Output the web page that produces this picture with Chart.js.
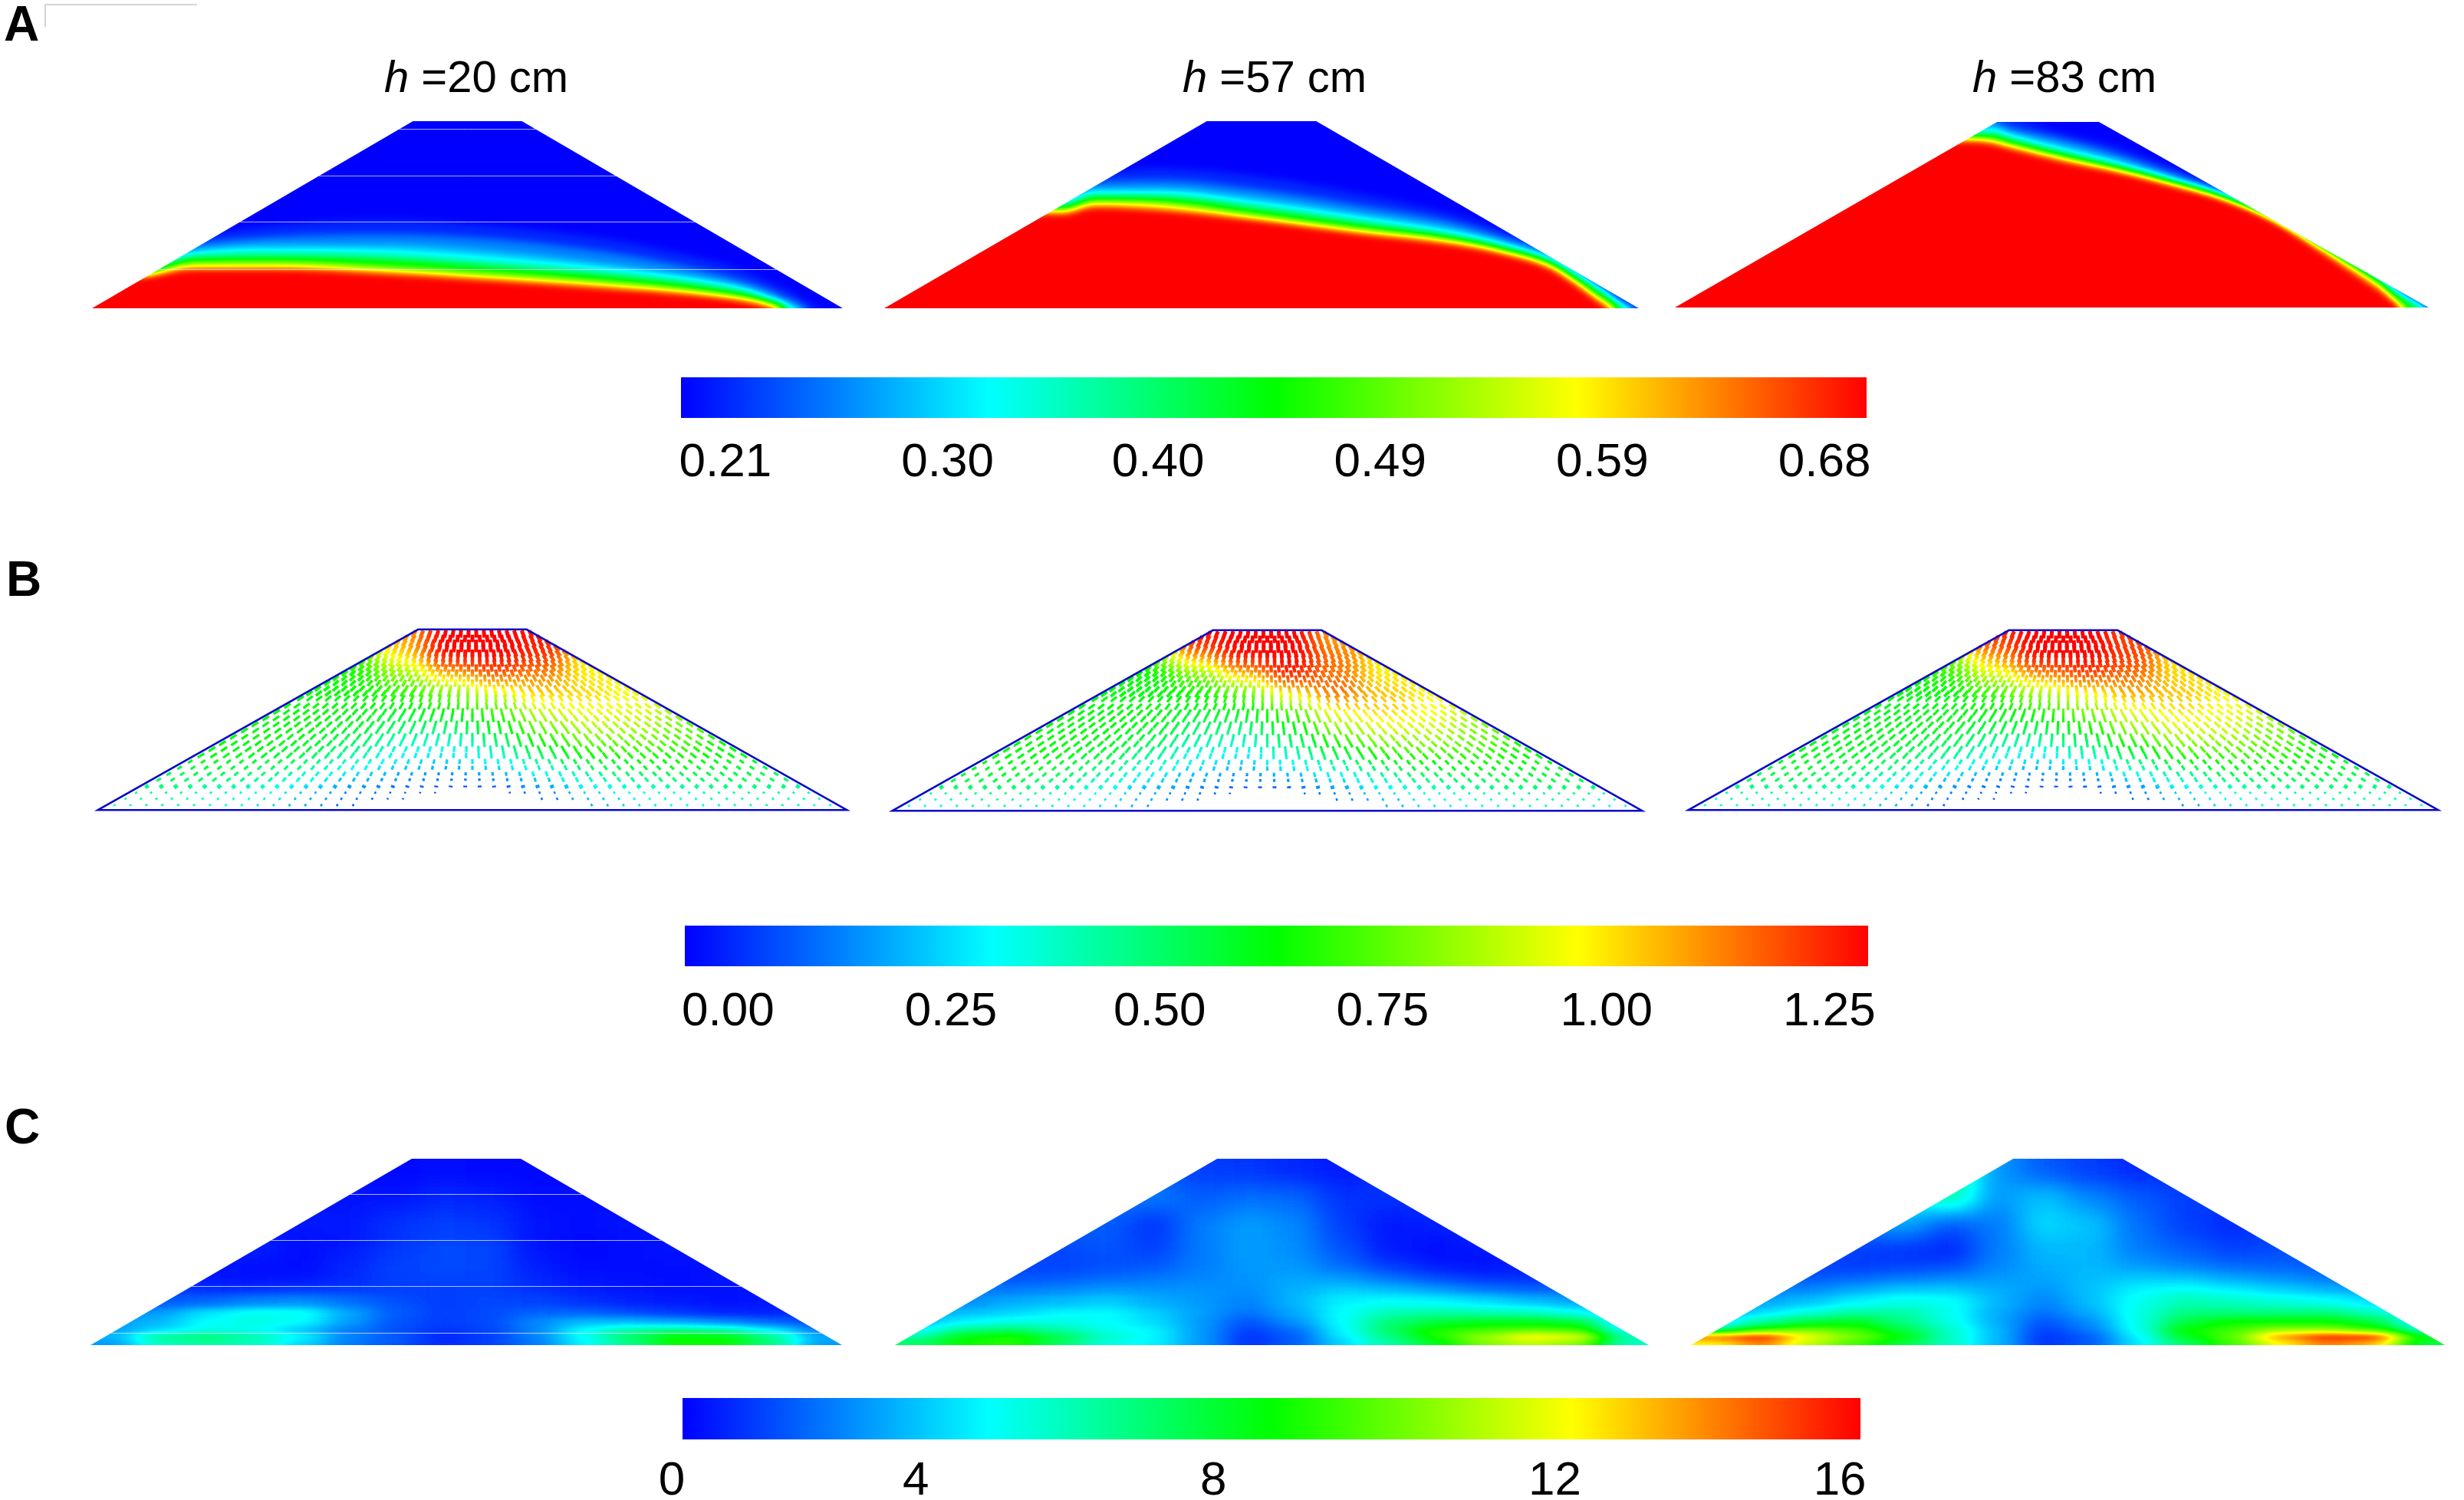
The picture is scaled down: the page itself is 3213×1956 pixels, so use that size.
<!DOCTYPE html>
<html>
<head>
<meta charset="utf-8">
<title>Dam fields</title>
<script src="https://cdn.jsdelivr.net/npm/chart.js@4/dist/chart.umd.min.js"></script>
<style>
  html, body { margin: 0; background: #fff; }
  body { position: relative; width: 3213px; height: 1956px; overflow: hidden; font-family: "Liberation Sans", Arial, sans-serif; color: #000; }
  canvas { position: absolute; }
  .panel-letter { position: absolute; font-weight: bold; font-size: 64px; line-height: 64px; }
  .panel-title { position: absolute; font-size: 58px; line-height: 64px; transform: translateX(-50%); white-space: nowrap; }
  .corner-mark { position: absolute; left: 58px; top: 5px; width: 197px; height: 28px; border-left: 2px solid #d4d4d4; border-top: 2px solid #d4d4d4; }
</style>
</head>
<body>
<div class="corner-mark"></div>
<div class="panel-letter" style="left:5px;top:-1px">A</div>
<div class="panel-letter" style="left:8px;top:723px">B</div>
<div class="panel-letter" style="left:6px;top:1437px">C</div>
<div class="panel-title" style="left:621px;top:68px"><i>h</i> =20 cm</div>
<div class="panel-title" style="left:1662px;top:68px"><i>h</i> =57 cm</div>
<div class="panel-title" style="left:2692px;top:68px"><i>h</i> =83 cm</div>
<script>
// ---- dam section, cm
const damX = [0, 171, 229, 400];
const damXh83 = [0, 171, 225, 400];
const damY = [0, 100, 100, 0];

// ---- colour scale
const jetStops = [0, 0.26, 0.5, 0.755, 1];
const jetColors = [[0, 0, 255], [0, 255, 255], [0, 255, 0], [255, 255, 0], [255, 0, 0]];

// ---- panel A: moisture isolines (height in cm along frontX), wettest first
const isoLevels = [0.68, 0.565, 0.445, 0.351, 0.304, 0.271, 0.229];

const frontXh20 = [0, 24, 54, 98, 157, 216, 275, 319, 348, 363, 372, 384, 400];
const frontsH20 = [
  [17.1, 17.1, 21.2, 21.2, 18.8, 15.1, 11, 7.6, 4.2, 1.5, 0, 0, 0],
  [17.8, 17.8, 24, 24.2, 21.5, 17.8, 13.7, 9.6, 5.5, 2.4, 0, 0, 0],
  [19.2, 19.2, 27.4, 28.1, 26.7, 22.6, 17.8, 13, 8.2, 3.4, 0.5, 0, 0],
  [21.2, 21.2, 29.5, 31.5, 30.8, 26.7, 21.2, 15.8, 10.3, 4.8, 1.5, 0, 0],
  [24, 24, 31.5, 34.3, 34.3, 30.8, 24, 17.8, 11.6, 6.9, 2.7, 0, 0],
  [28.1, 28.1, 34.3, 38.4, 39.7, 37, 30.1, 21.9, 14.4, 8.9, 4.8, 0, 0],
  [33.6, 33.6, 38.4, 44.5, 47.3, 43.8, 37, 28.1, 19.9, 13, 8.9, 2.1, 0]
];

const frontXh57 = [0, 94.3, 112, 146, 197.6, 250, 302, 327.6, 353.5, 366.4, 382, 391, 400];
const frontsH57 = [
  [50.8, 50.8, 54.4, 52.8, 47.3, 40.5, 34.3, 29.5, 21.3, 13.1, 2.2, 0, 0],
  [52.8, 52.8, 57.2, 56.2, 49.4, 42.5, 36.4, 30.9, 23.4, 15.2, 4.2, 0, 0],
  [54.9, 54.9, 59.9, 59.6, 53.5, 46, 38.4, 33, 24.8, 17.2, 7, 0.8, 0],
  [56.9, 56.9, 62.1, 62.1, 56.6, 49, 40.5, 34.3, 26.1, 18.6, 8.3, 2.2, 0],
  [59, 59, 64.4, 64.4, 59.6, 51.4, 43, 36.4, 27.5, 20, 9.7, 3.6, 0],
  [61, 61, 67.2, 68.5, 63.7, 55.5, 46, 38.4, 29.5, 21.3, 11.1, 4.2, 0],
  [63.7, 63.7, 71.3, 74.7, 70.6, 61.7, 50.1, 41.9, 32.3, 23.4, 12.4, 5.6, 0]
];

const frontXh83 = [0, 157, 168, 179, 207, 234.5, 262, 291, 317, 345, 372.5, 390, 400];
const frontsH83 = [
  [89.9, 89.9, 88.8, 85.8, 78.9, 73.4, 66.5, 58.6, 47.2, 29.2, 10.6, 0, 0],
  [91.6, 91.6, 90.6, 87.8, 80.9, 74.7, 67.8, 59.3, 48.3, 31.3, 14.1, 0, 0],
  [93.4, 93.4, 93.4, 90.2, 83, 76.1, 68.5, 59.6, 48.5, 32.7, 15.4, 3, 0],
  [95.4, 95.4, 96.1, 92.7, 85.1, 78.2, 69.9, 60.7, 49.2, 33.4, 16.1, 4.4, 0],
  [96.8, 96.8, 97.9, 94.7, 87.8, 80.3, 71.3, 61.6, 49.9, 34.1, 17.5, 5.1, 0],
  [98.2, 98.2, 99.6, 96.8, 90.6, 83, 73.4, 62.6, 50.6, 34.8, 18.2, 5.8, 0],
  [99.6, 99.6, 100, 100, 93.4, 86.5, 76.1, 64.4, 52, 35.4, 18.9, 6.5, 0]
];

// horizontal joints that show up in the h=20 pictures
const jointsA = [95.9, 70.8, 46.2, 21.1];
const jointsC = [81.2, 56.2, 31.5, 6.4];

// ---- shared cell columns (cm)
const cellCols = [12.5, 37.5, 62.5, 87.5, 112.5, 137.5, 162.5, 187.5, 212.5, 237.5, 262.5, 287.5, 312.5, 337.5, 362.5, 387.5];

// ---- panel B: velocity, bottom row first
const velRows = [0, 10, 20, 30, 40, 50, 60, 70, 80, 90, 100];
const velH20 = [
  [.35, .4, .35, .28, .2, .12, .05, .05, .05, .12, .2, .28, .32, .36, .38, .32],
  [.5, .5, .45, .4, .28, .2, .15, .1, .12, .2, .32, .4, .45, .5, .5, .45],
  [.55, .55, .6, .55, .48, .36, .28, .25, .3, .42, .55, .6, .6, .58, .55, .5],
  [.6, .6, .62, .62, .58, .48, .36, .34, .44, .6, .7, .72, .7, .62, .6, .6],
  [.6, .6, .62, .62, .62, .58, .5, .5, .6, .76, .85, .84, .75, .66, .6, .6],
  [.62, .62, .62, .62, .62, .62, .6, .64, .7, .88, .94, .92, .8, .7, .7, .7],
  [.62, .62, .62, .62, .62, .64, .68, .78, .92, 1.02, 1, .92, .9, .9, .9, .9],
  [.65, .65, .65, .65, .65, .65, .82, 1.06, 1.16, 1.1, .95, .95, .95, .95, .95, .95],
  [.7, .7, .7, .7, .7, .72, 1, 1.3, 1.34, 1.2, .95, .95, .95, .95, .95, .95],
  [.8, .8, .8, .8, .8, .88, 1.06, 1.36, 1.38, 1.22, .95, .95, .95, .95, .95, .95]
];
const velH57 = [
  [.3, .38, .4, .38, .28, .2, .1, .05, .05, .12, .2, .28, .34, .38, .4, .35],
  [.5, .55, .52, .45, .35, .25, .18, .12, .15, .22, .35, .42, .48, .52, .52, .45],
  [.58, .58, .62, .58, .5, .38, .3, .26, .32, .42, .55, .6, .62, .6, .58, .55],
  [.6, .6, .62, .62, .6, .5, .38, .34, .44, .6, .72, .75, .72, .65, .6, .6],
  [.6, .6, .62, .62, .62, .6, .5, .48, .6, .8, .9, .88, .78, .68, .6, .6],
  [.62, .62, .62, .62, .62, .62, .6, .62, .7, .95, 1, .95, .85, .75, .7, .7],
  [.6, .6, .6, .6, .6, .62, .64, .74, 1, 1.14, 1.02, .95, .9, .9, .9, .9],
  [.62, .62, .62, .62, .62, .62, .78, 1.04, 1.22, 1.1, .95, .95, .95, .95, .95, .95],
  [.7, .7, .7, .7, .7, .78, 1.1, 1.34, 1.34, 1.12, .95, .95, .95, .95, .95, .95],
  [.8, .8, .8, .8, .8, .94, 1.24, 1.38, 1.26, 1.04, .95, .95, .95, .95, .95, .95]
];
const velH83 = [
  [.3, .36, .36, .3, .22, .12, .05, .05, .05, .1, .2, .28, .34, .38, .38, .32],
  [.48, .5, .48, .42, .3, .2, .14, .1, .12, .2, .32, .42, .48, .5, .5, .45],
  [.55, .55, .6, .55, .48, .38, .3, .26, .3, .42, .55, .62, .62, .6, .55, .5],
  [.6, .6, .6, .6, .58, .5, .4, .36, .46, .62, .75, .76, .72, .65, .6, .6],
  [.6, .6, .6, .6, .6, .6, .55, .55, .64, .82, .9, .88, .78, .68, .6, .6],
  [.6, .6, .6, .6, .6, .6, .62, .66, .78, .92, .98, .94, .85, .75, .7, .7],
  [.6, .6, .6, .6, .6, .62, .7, .84, .96, 1.06, 1.02, .95, .9, .9, .9, .9],
  [.65, .65, .65, .65, .65, .68, .9, 1.1, 1.18, 1.12, .98, .95, .95, .95, .95, .95],
  [.75, .75, .75, .75, .75, .78, 1.08, 1.3, 1.34, 1.18, .95, .95, .95, .95, .95, .95],
  [.85, .85, .85, .85, .85, .98, 1.2, 1.38, 1.36, 1.16, .95, .95, .95, .95, .95, .95]
];

// velocity mesh: row heights (cm), marks per row, empty half width around the axis (cm)
const meshY = [2.7, 6.2, 9.6, 13, 16.8, 20, 23.4, 26.8, 30.2, 33.7, 37, 40.5, 44, 47.4, 50.8, 54.3, 57.7, 61.8, 64.6, 67.3, 70.3, 73, 75.8, 78.6, 81.3, 84, 86.8, 89.5, 92.3, 95, 97.5];
const meshCount = [46, 46, 46, 46, 46, 46, 45, 45, 44, 44, 43, 43, 42, 42, 41, 41, 40, 38, 36, 36, 35, 34, 33, 32, 31, 29, 27, 24, 22, 19, 16];
const meshGap = [60, 35, 12, 0, 0, 0, 0, 0, 0, 0, 0, 0, 0, 0, 0, 0, 0, 0, 0, 0, 0, 0, 0, 0, 0, 0, 0, 0, 0, 0, 0];

// ---- panel C: third field, bottom row first
const plasticRows = [0, 3, 6, 10, 15, 20, 28, 36, 46, 58, 72, 86, 100];
const plasticH20 = [
  [2.5, 5, 5.5, 5, 3.5, 2, 1.4, .7, 1, 2, 4, 6, 8, 8, 6, 2.5],
  [3, 6, 6.5, 5.5, 4.2, 2.2, 1.5, .6, 1, 2.2, 4.3, 6.5, 8.3, 8, 6, 2.8],
  [2.6, 3.6, 4.5, 4.3, 3.2, 2, 1.3, .8, 1.1, 2.2, 4.2, 5.5, 6, 5.5, 4, 2],
  [2.6, 3, 4.2, 4.6, 4.2, 2.6, 1.4, 1, 1.2, 2.2, 3, 3, 2.7, 2.2, 1.6, 1.2],
  [2, 2.6, 3.8, 4.6, 4.6, 2.8, 1.5, 1, 1.2, 1.6, 1.5, 1.1, .7, .4, .4, .8],
  [1.5, 1.3, 1.5, 2, 2.2, 1.8, 1.3, 1, 1.1, 1, .7, .4, .3, .2, .3, .5],
  [1, .8, .3, .2, .3, .5, .9, 1, 1, .7, .4, .3, .2, .3, .4, .5],
  [.8, .5, .3, .2, .2, .7, 1.1, 1.2, 1.1, .5, .2, .2, .2, .3, .4, .5],
  [.5, .5, .5, .5, .2, .4, .9, 1.2, 1.1, .3, .1, .2, .3, .4, .4, .4],
  [.5, .5, .5, .5, .4, .4, .8, 1, .9, .3, .2, .3, .3, .3, .3, .3],
  [.4, .4, .4, .4, .4, .3, .3, .6, .5, .2, .2, .2, .2, .2, .2, .2],
  [.2, .2, .2, .2, .2, .2, .1, .2, .1, .1, .1, .1, .1, .1, .1, .1]
];
const plasticH57 = [
  [6.5, 8, 8.5, 6.5, 4.5, 4, 2.5, .8, 1.5, 3.5, 5.5, 7.5, 10, 11, 10, 5],
  [5.5, 8, 8.5, 7, 5, 4, 2.5, .8, 1.5, 3.8, 6, 8.5, 10.5, 12.5, 12, 5.5],
  [4, 6, 6.5, 5.5, 4.5, 4, 2.5, 1, 1.8, 4, 6.5, 8.5, 9, 9.5, 9, 4],
  [3, 4, 4.5, 4.5, 4.2, 3.6, 2.5, 1.4, 2.4, 4.2, 6.2, 7, 7.5, 7.5, 7, 3],
  [2.5, 3, 3.4, 4, 4.2, 3.4, 2.6, 1.8, 2.8, 4.2, 5.2, 5.5, 5.2, 5, 4.2, 2.5],
  [2, 2.2, 2.8, 3, 3.3, 2.8, 2.5, 2.2, 3, 4, 4.2, 4, 3.6, 3, 2.5, 2],
  [1.8, 1.8, 1.6, 1.9, 2.2, 2.3, 2.4, 2.4, 2.9, 3.2, 2.7, 2, 1.3, 1, 1.2, 1.5],
  [1.5, 1.2, 1, 1, 1.2, 1.5, 2, 2.5, 2.5, 1.8, 1, .4, .2, .4, 1, 1.2],
  [1.2, 1.2, 1.2, 1.2, 1.4, 1, 2, 2.6, 2.3, 1.3, .4, .2, .4, .8, 1, 1],
  [1.5, 1.5, 1.5, 1.5, 1.5, .8, 2, 2.6, 2.2, 1, .4, .5, .8, .8, .8, .8],
  [2, 2, 2, 2, 2, 2, 1.5, 1.8, 1.7, .8, .8, .8, .8, .8, .8, .8],
  [1.5, 1.5, 1.5, 1.5, 1.5, 1.5, 1, .9, .6, .4, .8, .8, .8, .8, .8, .8]
];
const plasticH83 = [
  [12, 14, 11, 9, 7, 5, 3, .8, 1.5, 3.8, 6.5, 9, 12, 14, 13, 7],
  [15, 17, 12, 10, 8, 5, 3, .8, 1.5, 4, 7.5, 9.5, 14, 17, 16, 8],
  [6, 9, 10, 9, 7, 5, 3, 1, 2, 4.4, 8, 9, 10.5, 10.5, 9, 5],
  [3, 5.5, 7, 7.5, 6, 4.5, 2.8, 1.4, 2.4, 4.5, 7, 8, 8, 8, 7, 3.5],
  [2.5, 3.4, 4.5, 5.5, 5.5, 4.4, 2.8, 1.8, 2.8, 4.6, 6, 6, 6, 6, 5, 3],
  [2, 2.6, 3, 3.8, 4.5, 4.4, 3, 2.2, 3.2, 4.4, 5.2, 5, 4.6, 4.2, 3.5, 2],
  [2, 1.8, 1.9, 2.4, 2.9, 3, 2.8, 2.6, 3.2, 4, 4.2, 3.6, 3, 2.4, 2, 1.8],
  [1.6, 1.2, .9, .9, 1, 1.3, 2.2, 2.8, 3, 2.6, 2.2, 1.8, 1.6, 1.5, 1.5, 1.5],
  [1.5, 1.5, 1.5, 1, .8, .5, 2, 3, 3, 2, 1.5, 1, 1.2, 1.2, 1.2, 1.2],
  [2, 2, 2, 2, 2.8, 1.5, 2, 3.6, 3.2, 1.8, 1, .6, 1, 1, 1, 1],
  [3, 3, 3, 3, 4, 5.5, 2.5, 3.2, 2.2, 1.5, 1, 1, 1, 1, 1, 1],
  [4, 4, 4, 4, 5, 6, 2.5, 1.5, 1, .6, .8, 1, 1, 1, 1, 1]
];

// ---- colour bars
const barRangeA = [0.191, 0.698];
const barTicksA = [0.21, 0.305, 0.395, 0.49, 0.585, 0.68];
const barLabelsA = ['0.21', '0.30', '0.40', '0.49', '0.59', '0.68'];
const barRangeB = [-0.049, 1.294];
const barTicksB = [0, 0.253, 0.49, 0.743, 0.997, 1.25];
const barLabelsB = ['0.00', '0.25', '0.50', '0.75', '1.00', '1.25'];
const barRangeC = [0, 16];
const barTicksC = [-0.146, 3.17, 7.21, 11.85, 15.72];
const barLabelsC = ['0', '4', '8', '12', '16'];

Chart.defaults.font.family = '"Liberation Sans", Arial, sans-serif';
Chart.defaults.animation = false;

const PAD = 6;

function jetAt(t) {
  t = Math.max(0, Math.min(1, t));
  let i = 0;
  while (i < jetStops.length - 2 && t > jetStops[i + 1]) i++;
  const f = (t - jetStops[i]) / (jetStops[i + 1] - jetStops[i]);
  return jetColors[i].map((c, k) => c + (jetColors[i + 1][k] - c) * f);
}
const jetLut = [];
for (let i = 0; i < 256; i++) jetLut.push(jetAt(i / 255));

// cells and isolines are drawn as grey = position on the scale, coloured afterwards
function grey(t) {
  const g = Math.round(255 * Math.max(0, Math.min(1, t)));
  return `rgb(${g},${g},${g})`;
}

function addCanvas(box, hidden) {
  const c = document.createElement('canvas');
  c.width = box.r - box.l + PAD * 2;
  c.height = box.b - box.t + PAD * 2;
  c.style.left = (box.l - PAD) + 'px';
  c.style.top = (box.t - PAD) + 'px';
  c.style.width = c.width + 'px';
  c.style.height = c.height + 'px';
  if (hidden) c.style.visibility = 'hidden';
  document.body.appendChild(c);
  return c;
}

function smoothed(src, sx, sy) {
  const w = src.width, h = src.height;
  const tall = document.createElement('canvas');
  tall.width = w;
  tall.height = Math.round(h * sx / sy);
  const tc = tall.getContext('2d');
  tc.filter = `blur(${sx}px)`;
  tc.drawImage(src, 0, 0, w, tall.height);
  const back = document.createElement('canvas');
  back.width = w;
  back.height = h;
  const bc = back.getContext('2d', { willReadFrequently: true });
  bc.drawImage(tall, 0, 0, w, h);
  return bc.getImageData(0, 0, w, h).data;
}

function damPath(chart, ctx, xs) {
  const sx = chart.scales.xCm, sy = chart.scales.y;
  ctx.beginPath();
  xs.forEach((x, i) => {
    const px = sx.getPixelForValue(x), py = sy.getPixelForValue(damY[i]);
    if (i === 0) ctx.moveTo(px, py); else ctx.lineTo(px, py);
  });
  ctx.closePath();
}

// turns the grey chart into the smooth jet picture, cut to the dam section
function fieldPass(cfg) {
  return {
    id: 'fieldPass',
    beforeDatasetsDraw(chart) {
      const a = chart.chartArea;
      chart.ctx.fillStyle = '#000';
      chart.ctx.fillRect(a.left, a.top, a.width, a.height);
    },
    afterDraw(chart) {
      const src = chart.canvas, ctx = chart.ctx;
      const w = src.width, h = src.height, a = chart.chartArea;
      const low = smoothed(src, cfg.blurX, cfg.blurY);
      const high = cfg.blurYTop ? smoothed(src, cfg.blurX, cfg.blurYTop) : low;
      cfg.greyData = low;
      const out = document.createElement('canvas');
      out.width = w;
      out.height = h;
      const oc = out.getContext('2d');
      const img = oc.createImageData(w, h);
      for (let y = 0; y < h; y++) {
        // fine rows near the base, coarse rows higher up
        const up = (a.bottom - y) / a.height;
        const mix = Math.max(0, Math.min(1, (up - 0.12) / 0.2));
        for (let x = 0; x < w; x++) {
          const i = (y * w + x) * 4;
          const c = jetLut[Math.round(low[i] * (1 - mix) + high[i] * mix)];
          img.data[i] = c[0];
          img.data[i + 1] = c[1];
          img.data[i + 2] = c[2];
          img.data[i + 3] = 255;
        }
      }
      oc.putImageData(img, 0, 0);
      ctx.clearRect(0, 0, w, h);
      ctx.save();
      if (cfg.dam) {
        damPath(chart, ctx, cfg.dam);
        ctx.clip();
      }
      ctx.drawImage(out, 0, 0);
      if (cfg.joints) {
        ctx.strokeStyle = 'rgba(225,228,255,0.75)';
        ctx.lineWidth = 1;
        cfg.joints.forEach(j => {
          const py = Math.round(chart.scales.y.getPixelForValue(j)) + 0.5;
          ctx.beginPath();
          ctx.moveTo(a.left, py);
          ctx.lineTo(a.right, py);
          ctx.stroke();
        });
      }
      ctx.restore();
    }
  };
}

function hiddenScales(extra) {
  return Object.assign({
    xCm: { type: 'linear', display: false, min: 0, max: 400, offset: false },
    y: { type: 'linear', display: false, min: 0, max: 100 }
  }, extra);
}

function frontPanel(box, xs, fronts, dam, joints) {
  const datasets = fronts.map((ys, k) => ({
    data: ys.map((y, i) => ({ x: xs[i], y: y })),
    xAxisID: 'xCm',
    backgroundColor: grey((isoLevels[k] - 0.21) / 0.47),
    borderWidth: 0,
    pointRadius: 0,
    fill: 'origin',
    cubicInterpolationMode: 'monotone'
  }));
  new Chart(addCanvas(box), {
    type: 'line',
    data: { datasets },
    options: {
      responsive: false,
      layout: { padding: PAD },
      plugins: { legend: { display: false }, tooltip: { enabled: false } },
      scales: hiddenScales()
    },
    plugins: [fieldPass({ dam, joints, blurX: 5, blurY: 5 })]
  });
}

function cellDatasets(rows, edges, maxValue) {
  return rows.map((row, r) => ({
    data: row.map(() => [edges[r], edges[r + 1]]),
    backgroundColor: row.map(v => grey(v / maxValue)),
    borderWidth: 0,
    grouped: false,
    barPercentage: 1,
    categoryPercentage: 1
  }));
}

function cellChart(canvas, rows, edges, maxValue, extraPlugins) {
  return new Chart(canvas, {
    type: 'bar',
    data: { labels: cellCols, datasets: cellDatasets(rows, edges, maxValue) },
    options: {
      responsive: false,
      layout: { padding: PAD },
      plugins: { legend: { display: false }, tooltip: { enabled: false } },
      scales: hiddenScales({ x: { type: 'category', display: false, offset: true } })
    },
    plugins: extraPlugins
  });
}

function plasticPanel(box, rows, joints) {
  cellChart(addCanvas(box), rows, plasticRows, 16, [fieldPass({ dam: damX, joints, blurX: 20, blurY: 4, blurYTop: 13 })]);
}

function velocityPanel(box, rows) {
  const fieldCanvas = addCanvas(box, true);
  const pass = { blurX: 16, blurY: 12 };
  cellChart(fieldCanvas, rows, velRows, 1.25, [fieldPass(pass)]);
  const pts = [], radius = [], rotation = [], width = [];
  const bw = box.r - box.l, bh = box.b - box.t;
  const pxCm = bw / 400, pyCm = bh / 100;
  meshY.forEach((y, r) => {
    const left = y * 1.71, right = 400 - y * 1.71;
    const step = (right - left) / meshCount[r];
    for (let i = 0; i < meshCount[r]; i++) {
      const x = left + (i + 0.5) * step;
      if (Math.abs(x - 200) < meshGap[r]) continue;
      // mark length follows the speed under it
      const ix = Math.round(PAD + x * pxCm), iy = Math.round(PAD + (100 - y) * pyCm);
      const speed = pass.greyData[(iy * fieldCanvas.width + ix) * 4] / 255;
      if (speed < 0.045) continue;
      const cap = y < 11 ? 1.6 : y < 14 ? 2.6 : y < 28 ? 3.4 : y < 62 ? 5 : 4.8;
      pts.push({ x, y });
      // marks fan out from above the crest, steeper near the top
      const srcY = 125 + Math.max(0, y - 60);
      rotation.push(Math.atan2((srcY - y) * pyCm, (x - 200) * pxCm) * 180 / Math.PI);
      radius.push(Math.max(0.9, Math.min(cap, speed * 14)));
      width.push(y < 11 ? 2.6 : y < 14 ? 5 : y < 62 ? 3.2 : y < 75 ? 3.8 : y < 85 ? 4.4 : 5);
    }
  });
  new Chart(addCanvas(box), {
    type: 'scatter',
    data: {
      datasets: [{
        data: pts,
        xAxisID: 'xCm',
        pointStyle: 'line',
        pointRadius: radius,
        pointRotation: rotation,
        pointBorderWidth: width,
        pointBorderColor: '#000',
        showLine: false
      }]
    },
    options: {
      responsive: false,
      layout: { padding: PAD },
      plugins: { legend: { display: false }, tooltip: { enabled: false } },
      scales: hiddenScales()
    },
    plugins: [{
      id: 'markColours',
      afterDatasetsDraw(chart) {
        const ctx = chart.ctx;
        ctx.save();
        ctx.globalCompositeOperation = 'source-in';
        ctx.drawImage(fieldCanvas, 0, 0);
        ctx.restore();
      },
      afterDraw(chart) {
        const ctx = chart.ctx;
        ctx.save();
        damPath(chart, ctx, damX);
        ctx.strokeStyle = '#0808c8';
        ctx.lineWidth = 2.6;
        ctx.stroke();
        ctx.restore();
      }
    }]
  });
}

function colourBar(box, range, ticks, labels) {
  const pad = 80;
  const c = document.createElement('canvas');
  c.width = box.r - box.l + pad * 2;
  c.height = box.b - box.t + 110;
  c.style.left = (box.l - pad) + 'px';
  c.style.top = box.t + 'px';
  c.style.width = c.width + 'px';
  c.style.height = c.height + 'px';
  document.body.appendChild(c);
  new Chart(c, {
    type: 'bar',
    data: {
      labels: ['scale'],
      datasets: [{
        data: [range],
        barPercentage: 1,
        categoryPercentage: 1,
        borderWidth: 0,
        backgroundColor(ctx) {
          const s = ctx.chart.scales.x;
          const x0 = s ? s.getPixelForValue(range[0]) : NaN;
          const x1 = s ? s.getPixelForValue(range[1]) : NaN;
          if (!isFinite(x0) || !isFinite(x1)) return '#00f';
          const g = ctx.chart.ctx.createLinearGradient(x0, 0, x1, 0);
          jetStops.forEach((st, i) => g.addColorStop(st, `rgb(${jetColors[i].join(',')})`));
          return g;
        }
      }]
    },
    options: {
      indexAxis: 'y',
      responsive: false,
      layout: { padding: { left: pad, right: pad } },
      plugins: { legend: { display: false }, tooltip: { enabled: false } },
      scales: {
        y: { display: false },
        x: {
          type: 'linear',
          position: 'bottom',
          min: range[0],
          max: range[1],
          border: { display: false },
          grid: { display: false, drawTicks: false },
          afterFit(scale) { scale.height = 110; },
          afterBuildTicks(scale) { scale.ticks = ticks.map(v => ({ value: v })); },
          ticks: {
            autoSkip: false,
            maxRotation: 0,
            padding: box.labelGap,
            color: '#000',
            font: { size: 62 },
            callback(v) { return labels[ticks.indexOf(v)]; }
          }
        }
      }
    }
  });
}

frontPanel({ l: 120, r: 1099, t: 158, b: 402 }, frontXh20, frontsH20, damX, jointsA);
frontPanel({ l: 1153, r: 2137, t: 158, b: 402 }, frontXh57, frontsH57, damX);
frontPanel({ l: 2184, r: 3167, t: 159, b: 401 }, frontXh83, frontsH83, damXh83);
colourBar({ l: 888, r: 2434, t: 492, b: 545, labelGap: 22 }, barRangeA, barTicksA, barLabelsA);

velocityPanel({ l: 124, r: 1108, t: 817, b: 1060 }, velH20);
velocityPanel({ l: 1160, r: 2145, t: 818, b: 1061 }, velH57);
velocityPanel({ l: 2198, r: 3183, t: 818, b: 1060 }, velH83);
colourBar({ l: 893, r: 2436, t: 1207, b: 1260, labelGap: 23 }, barRangeB, barTicksB, barLabelsB);

plasticPanel({ l: 118, r: 1098, t: 1511, b: 1754 }, plasticH20, jointsC);
plasticPanel({ l: 1167, r: 2150, t: 1511, b: 1754 }, plasticH57);
plasticPanel({ l: 2205, r: 3188, t: 1511, b: 1754 }, plasticH83);
colourBar({ l: 890, r: 2426, t: 1823, b: 1877, labelGap: 18 }, barRangeC, barTicksC, barLabelsC);
</script>
</body>
</html>
